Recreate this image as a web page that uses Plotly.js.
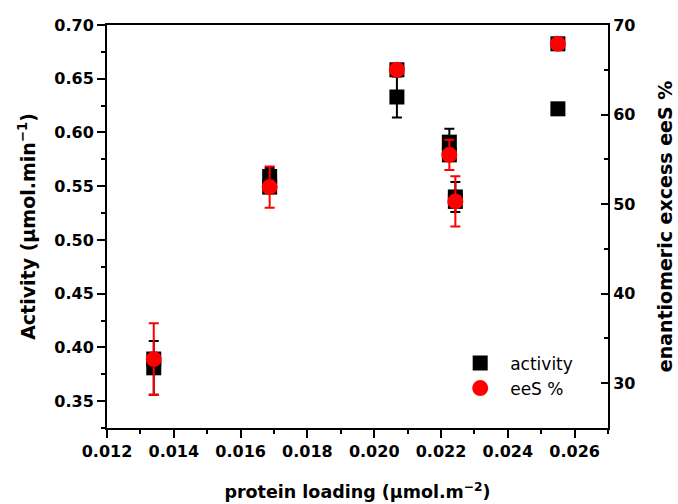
<!DOCTYPE html>
<html>
<head>
<meta charset="utf-8">
<script src="https://cdn.plot.ly/plotly-3.0.1.min.js"></script>
<style>html,body{margin:0;padding:0;background:#fff;}#chart{width:678px;height:504px;}</style>
</head>
<body>
<div id="chart"></div>
<script>
// Data
const proteinLoading = [0.01340, 0.01687, 0.02068, 0.02225, 0.02243, 0.02550];
const activity       = [0.381, 0.559, 0.633, 0.591, 0.540, 0.622];
const activityErr    = [0.025, 0.008, 0.019, 0.0125, 0.014, 0.002];
const eeS            = [32.7, 51.9, 65.0, 55.5, 50.3, 67.9];
const eeSErr         = [4.0, 2.3, 0.4, 1.7, 2.8, 0.4];
const seriesNames    = ['activity', 'eeS %'];

const tickFont = {family: 'DejaVu Sans', size: 16, color: '#000', weight: 'bold'};
const titleFontY = {family: 'DejaVu Sans', size: 19, color: '#000', weight: 'bold'};
const titleFontX = {family: 'DejaVu Sans', size: 17.5, color: '#000', weight: 'bold'};

const traces = [
  {
    x: proteinLoading, y: activity, name: seriesNames[0], type: 'scatter', mode: 'markers',
    legendgroup: 'a', yaxis: 'y',
    marker: {symbol: 'square', size: 15, color: '#000'},
    error_y: {type: 'data', array: activityErr, visible: true, color: '#000', thickness: 2, width: 5}
  },
  {
    x: proteinLoading, y: eeS, name: 'bg', type: 'scatter', mode: 'markers',
    showlegend: false, yaxis: 'y2', hoverinfo: 'skip',
    marker: {symbol: 'square', size: 15, color: '#000'}
  },
  {
    x: proteinLoading, y: eeS, name: seriesNames[1], type: 'scatter', mode: 'markers',
    legendgroup: 'b', yaxis: 'y2',
    marker: {symbol: 'circle', size: 16, color: '#ff0000'},
    error_y: {type: 'data', array: eeSErr, visible: true, color: '#ff0000', thickness: 2, width: 5}
  }
];

const layout = {
  width: 678, height: 504,
  margin: {l: 107, r: 70, t: 25, b: 76},
  paper_bgcolor: '#fff', plot_bgcolor: '#fff',
  showlegend: true,
  legend: {
    x: 0.685, y: 0.205, xanchor: 'left', yanchor: 'top',
    bgcolor: 'rgba(0,0,0,0)', traceorder: 'grouped', tracegroupgap: 0,
    itemwidth: 50,
    font: {family: 'DejaVu Sans', size: 17, color: '#000'}
  },
  xaxis: {
    range: [0.012, 0.027], tick0: 0.012, dtick: 0.002, tickformat: '.3f',
    showline: true, linewidth: 2, linecolor: '#000', mirror: true,
    ticks: 'outside', ticklen: 8, tickwidth: 2, tickcolor: '#000',
    minor: {ticks: 'outside', ticklen: 4, tickwidth: 2, tickcolor: '#000', dtick: 0.001, tick0: 0.012},
    showgrid: false, zeroline: false, tickfont: tickFont,
    title: {text: 'protein loading (μmol.m<sup>−2</sup>)', font: titleFontX, standoff: 26}
  },
  yaxis: {
    range: [0.325, 0.70], tick0: 0.35, dtick: 0.05, tickformat: '.2f',
    showline: true, linewidth: 2, linecolor: '#000',
    ticks: 'outside', ticklen: 8, tickwidth: 2, tickcolor: '#000',
    minor: {ticks: 'outside', ticklen: 4, tickwidth: 2, tickcolor: '#000', dtick: 0.025, tick0: 0.325},
    showgrid: false, zeroline: false, tickfont: tickFont,
    title: {text: 'Activity (μmol.min<sup>−1</sup>)', font: titleFontY, standoff: 14}
  },
  yaxis2: {
    overlaying: 'y', side: 'right',
    range: [25, 70], tick0: 30, dtick: 10,
    showline: true, linewidth: 2, linecolor: '#000',
    ticks: 'inside', ticklen: 7, tickwidth: 2, tickcolor: '#000',
    minor: {ticks: 'inside', ticklen: 4, tickwidth: 2, tickcolor: '#000', dtick: 5, tick0: 25},
    showgrid: false, zeroline: false, tickfont: tickFont,
    title: {text: 'enantiomeric excess eeS %', font: titleFontY, standoff: 24}
  }
};

Plotly.newPlot('chart', traces, layout, {staticPlot: true, displayModeBar: false});
</script>
</body>
</html>
